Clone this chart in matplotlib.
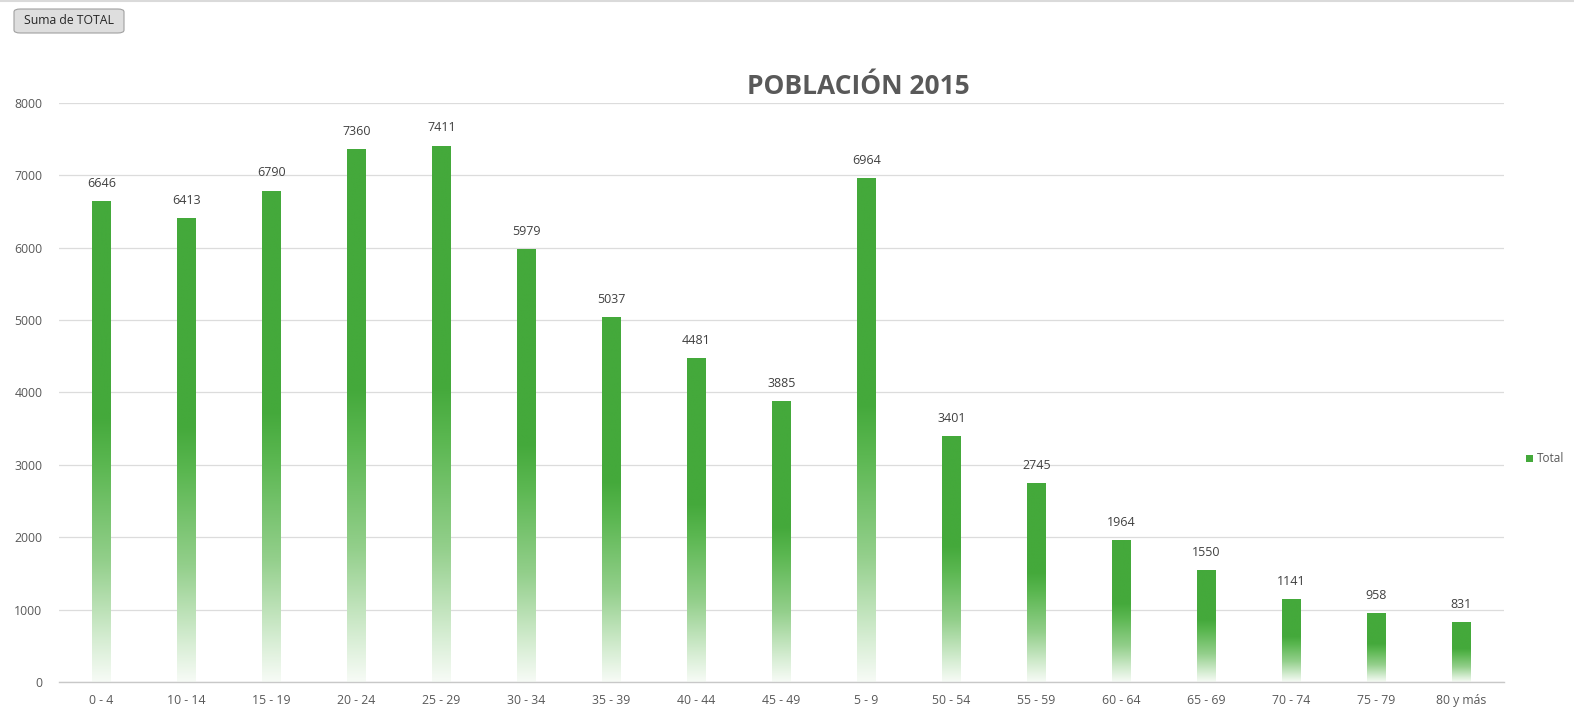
import numpy as np
import matplotlib
matplotlib.use("Agg")
import matplotlib.pyplot as plt
from matplotlib.colors import LinearSegmentedColormap
from matplotlib.patches import FancyBboxPatch, Rectangle

# Population by age group (pivot order, as sorted as text)
age_groups = ["0 - 4", "10 - 14", "15 - 19", "20 - 24", "25 - 29", "30 - 34",
              "35 - 39", "40 - 44", "45 - 49", "5 - 9", "50 - 54", "55 - 59",
              "60 - 64", "65 - 69", "70 - 74", "75 - 79", "80 y más"]
totals = [6646, 6413, 6790, 7360, 7411, 5979, 5037, 4481, 3885, 6964,
          3401, 2745, 1964, 1550, 1141, 958, 831]
y_ticks = [0, 1000, 2000, 3000, 4000, 5000, 6000, 7000, 8000]

TEXT = "#595959"
GREEN = "#44A93B"
FONT = ["Open Sans", "DejaVu Sans"]
plt.rcParams["font.family"] = FONT

fig = plt.figure(figsize=(15.74, 7.2), dpi=100)
fig.patch.set_facecolor("white")
ax = fig.add_axes([0.0375, 0.0528, 0.918, 0.8042])

x = np.arange(len(age_groups))
bars = ax.bar(x, totals, width=0.22, color="none", edgecolor="none", zorder=2)

ax.set_xlim(-0.5, len(age_groups) - 0.5)
ax.set_ylim(0, 8000)
ax.set_yticks(y_ticks)
ax.set_yticklabels([str(v) for v in y_ticks])
ax.set_xticks(x)
ax.set_xticklabels(age_groups)
ax.tick_params(axis="both", length=0, labelsize=8.8, labelcolor=TEXT)
ax.tick_params(axis="x", pad=9)
ax.tick_params(axis="y", pad=12)
for s in ["top", "right", "left"]:
    ax.spines[s].set_visible(False)
ax.spines["bottom"].set_color("#C8C8C8")
ax.spines["bottom"].set_linewidth(1.0)
ax.yaxis.grid(True, color="#DCDCDC", linewidth=0.9, zorder=0)
ax.set_axisbelow(True)

# Vertical gradient fill: solid on the upper part, fading to white at the base
cmap = LinearSegmentedColormap.from_list(
    "fade", [(0.0, "#F7FBF6"), (0.08, "#D8EED5"), (0.25, "#93CF8B"),
             (0.45, "#5BB751"), (0.55, GREEN), (1.0, GREEN)])
grad = np.linspace(0, 1, 256).reshape(-1, 1)
for b, v in zip(bars, totals):
    x0 = b.get_x()
    w = b.get_width()
    im = ax.imshow(grad, cmap=cmap, origin="lower", aspect="auto",
                   extent=(x0, x0 + w, 0, b.get_height()), zorder=2,
                   interpolation="bilinear")
    clip = Rectangle((x0, 0), w, b.get_height(), transform=ax.transData)
    im.set_clip_path(clip)
    ax.annotate(str(v), (x0 + w / 2, v), xytext=(0, 8), textcoords="offset points",
                ha="center", va="bottom", fontsize=9, color="#404040")

ax.set_xlim(-0.5, len(age_groups) - 0.5)
ax.set_ylim(0, 8000)

fig.text(0.5455, 0.880, "POBLACIÓN 2015", ha="center", va="center",
         fontsize=19, fontweight="bold", color=TEXT)

# Pivot field button
btn = FancyBboxPatch((14 / 1574, 1 - 33 / 720), 110 / 1574, 24 / 720,
                     boxstyle="round,pad=0,rounding_size=0.004",
                     transform=fig.transFigure, facecolor="#DEDEDE",
                     edgecolor="#A0A0A0", linewidth=0.8)
fig.patches.append(btn)
fig.text(69 / 1574, 1 - 21 / 720, "Suma de TOTAL", ha="center", va="center",
         fontsize=8.8, color="#262626")

# Legend
fig.patches.append(Rectangle((1526 / 1574, 1 - 462 / 720), 7 / 1574, 7 / 720,
                             transform=fig.transFigure, facecolor=GREEN,
                             edgecolor="none"))
fig.text(1537 / 1574, 1 - 458 / 720, "Total", ha="left", va="center",
         fontsize=8.5, color=TEXT)

# Thin frame line along the top edge
fig.add_artist(plt.Line2D([0, 1], [0.998, 0.998], transform=fig.transFigure,
                          color="#DADADA", linewidth=1.5))

fig.savefig("out.png", dpi=100, facecolor="white")
